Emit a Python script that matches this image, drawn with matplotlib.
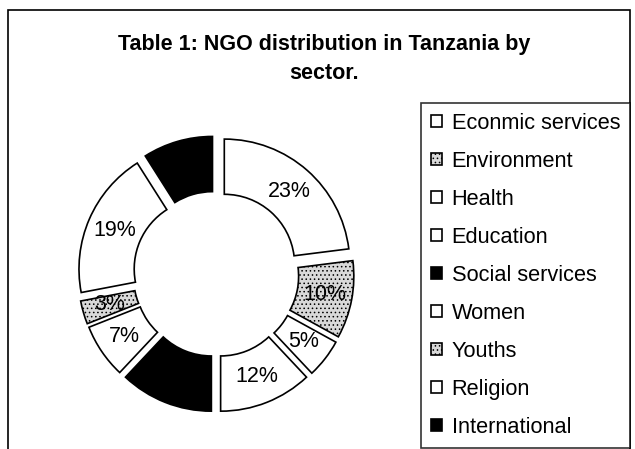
import matplotlib.pyplot as plt
import matplotlib.patches as patches

plt.rcParams['font.family'] = ['Liberation Sans', 'DejaVu Sans']
plt.rcParams['hatch.linewidth'] = 0.6

# data (percent)
sectors = ["Econmic services", "Environment", "Health", "Education",
           "Social services", "Women", "Youths", "Religion", "International"]
shares = [23, 10, 5, 12, 12, 7, 3, 19, 9]
fills = ["white", "#d9d9d9", "white", "white", "black",
         "white", "#d9d9d9", "white", "black"]
hatches = ["", "....", "", "", "", "", "....", "", ""]

W, H = 635, 449
fig = plt.figure(figsize=(W / 100, H / 100), dpi=100)

# outer frame of the scanned chart
frame = patches.Rectangle((8 / W, -0.1), 622 / W, 1.1 - 10 / H,
                          transform=fig.transFigure, fill=False,
                          edgecolor='black', linewidth=1.2)
fig.patches.append(frame)

fig.text(324 / W, 1 - 59 / H, "Table 1: NGO distribution in Tanzania by\nsector.",
         ha='center', va='center', fontsize=15.5, fontweight='bold',
         linespacing=1.5)

# donut axes
cx, cy, unit = 216, 274, 125.5
half = 1.2 * unit
ax = fig.add_axes([(cx - half) / W, 1 - (cy + half) / H, 2 * half / W, 2 * half / H])

wedges, texts, autotexts = ax.pie(
    shares, startangle=90, counterclock=False, radius=1.0,
    explode=[0.1] * len(shares), colors=fills,
    wedgeprops=dict(width=0.44, edgecolor='black', linewidth=1.2),
    autopct='%d%%', pctdistance=0.78,
    textprops=dict(fontsize=15.5, color='black'))

for w, h in zip(wedges, hatches):
    if h:
        w.set_hatch(h)

for t, f in zip(autotexts, fills):
    if f == "black":
        t.set_text("")

ax.set_xlim(-1.2, 1.2)
ax.set_ylim(-1.2, 1.2)
ax.set_aspect('equal')
ax.axis('off')

leg = fig.legend(wedges, sectors, loc='upper right',
                 bbox_to_anchor=(630 / W, 1 - 103 / H),
                 fontsize=15.7, frameon=True, fancybox=False,
                 handlelength=0.5, handleheight=0.5, handletextpad=0.45,
                 labelspacing=0.78, borderpad=0.45, borderaxespad=0)
leg.get_frame().set_edgecolor('black')
leg.get_frame().set_linewidth(1.2)

fig.savefig('out.png', dpi=100)
